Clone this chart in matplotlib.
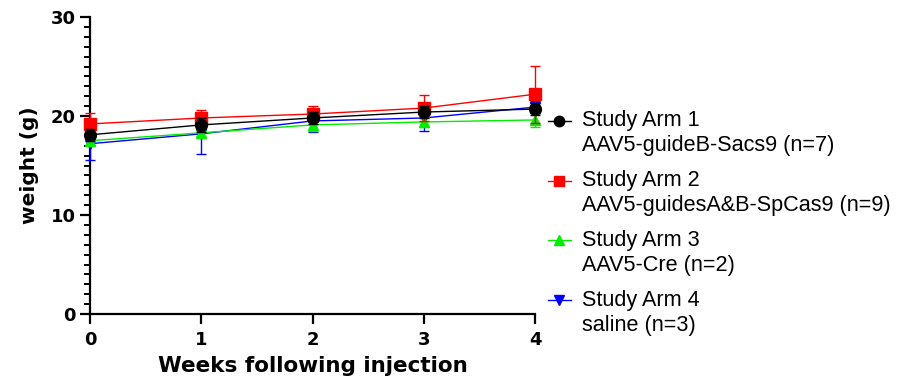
import matplotlib
matplotlib.use("Agg")
import matplotlib.pyplot as plt
from matplotlib.lines import Line2D

plt.rcParams['font.family'] = ['Liberation Sans', 'DejaVu Sans']

weeks = [0, 1, 2, 3, 4]
arm1 = [18.1, 19.1, 19.8, 20.4, 20.7]
arm1_err = [0.6, 0.7, 0.6, 0.6, 0.6]
arm2 = [19.2, 19.8, 20.2, 20.8, 22.2]
arm2_err = [1.1, 0.8, 0.8, 1.3, 2.9]
arm3 = [17.5, 18.3, 19.1, 19.4, 19.6]
arm3_err = [0.4, 0.3, 0.6, 0.5, 0.7]
arm4 = [17.2, 18.2, 19.5, 19.8, 20.9]
arm4_err = [1.6, 2.0, 1.1, 1.3, 0.6]

titles = ["Study Arm 1", "Study Arm 2", "Study Arm 3", "Study Arm 4"]
subtitles = ["AAV5-guideB-Sacs9 (n=7)", "AAV5-guidesA&B-SpCas9 (n=9)",
             "AAV5-Cre (n=2)", "saline (n=3)"]
colors = ["#000000", "#ff0000", "#00ee00", "#0000ff"]
markers = ["o", "s", "^", "v"]
msizes = [8.5, 8.5, 7.5, 7.5]

fig = plt.figure(figsize=(9.01, 3.88), dpi=100)
ax = fig.add_axes([90/901, 1-314/388, 445/901, 297/388])

series = [(arm1, arm1_err), (arm2, arm2_err), (arm3, arm3_err), (arm4, arm4_err)]
zorders = [6, 5, 4, 3]
for i in [3, 2, 1, 0]:
    y, e = series[i]
    ax.errorbar(weeks, y, yerr=e, color=colors[i], marker=markers[i],
                markersize=msizes[i], linewidth=1.0, elinewidth=1.0,
                capsize=3.6, capthick=1.0, clip_on=False, zorder=zorders[i])

ax.set_xlim(0, 4)
ax.set_ylim(0, 30)
ax.set_xticks(weeks)
ax.set_yticks([0, 10, 20, 30])
ax.set_yticks(range(0, 31), minor=True)
ax.spines['top'].set_visible(False)
ax.spines['right'].set_visible(False)
for s in ['left', 'bottom']:
    ax.spines[s].set_linewidth(1.6)
ax.tick_params(axis='both', which='major', width=1.6, length=7, labelsize=13, pad=3)
ax.tick_params(axis='x', which='major', pad=5)
ax.tick_params(axis='y', which='minor', width=1.4, length=4)
ax.tick_params(axis='x', which='minor', length=0)
for lab in ax.get_xticklabels() + ax.get_yticklabels():
    lab.set_fontweight('bold')
    lab.set_family('DejaVu Sans')

ax.set_xlabel("Weeks following injection", fontsize=15.5, fontweight='bold',
              family='DejaVu Sans', labelpad=5)
ax.set_ylabel("weight (g)", fontsize=14.5, fontweight='bold',
              family='DejaVu Sans', labelpad=9)

# legend drawn manually (handle aligned to first line of each label)
px_y = 1/297
first_y = [0.650, 0.448, 0.249, 0.047]
for i in range(4):
    yy = first_y[i]
    ax.add_line(Line2D([1.0292, 1.0809], [yy, yy], transform=ax.transAxes,
                       color=colors[i], linewidth=1.0, clip_on=False))
    ax.add_line(Line2D([1.055], [yy], transform=ax.transAxes, color=colors[i],
                       marker=markers[i], markersize=msizes[i] - 1,
                       linestyle='none', clip_on=False))
    ax.text(1.1056, yy, titles[i], transform=ax.transAxes, fontsize=15.6,
            va='center', ha='left')
    ax.text(1.1056, yy - 25*px_y, subtitles[i], transform=ax.transAxes,
            fontsize=15.6, va='center', ha='left')

fig.savefig("out.png", dpi=100)
